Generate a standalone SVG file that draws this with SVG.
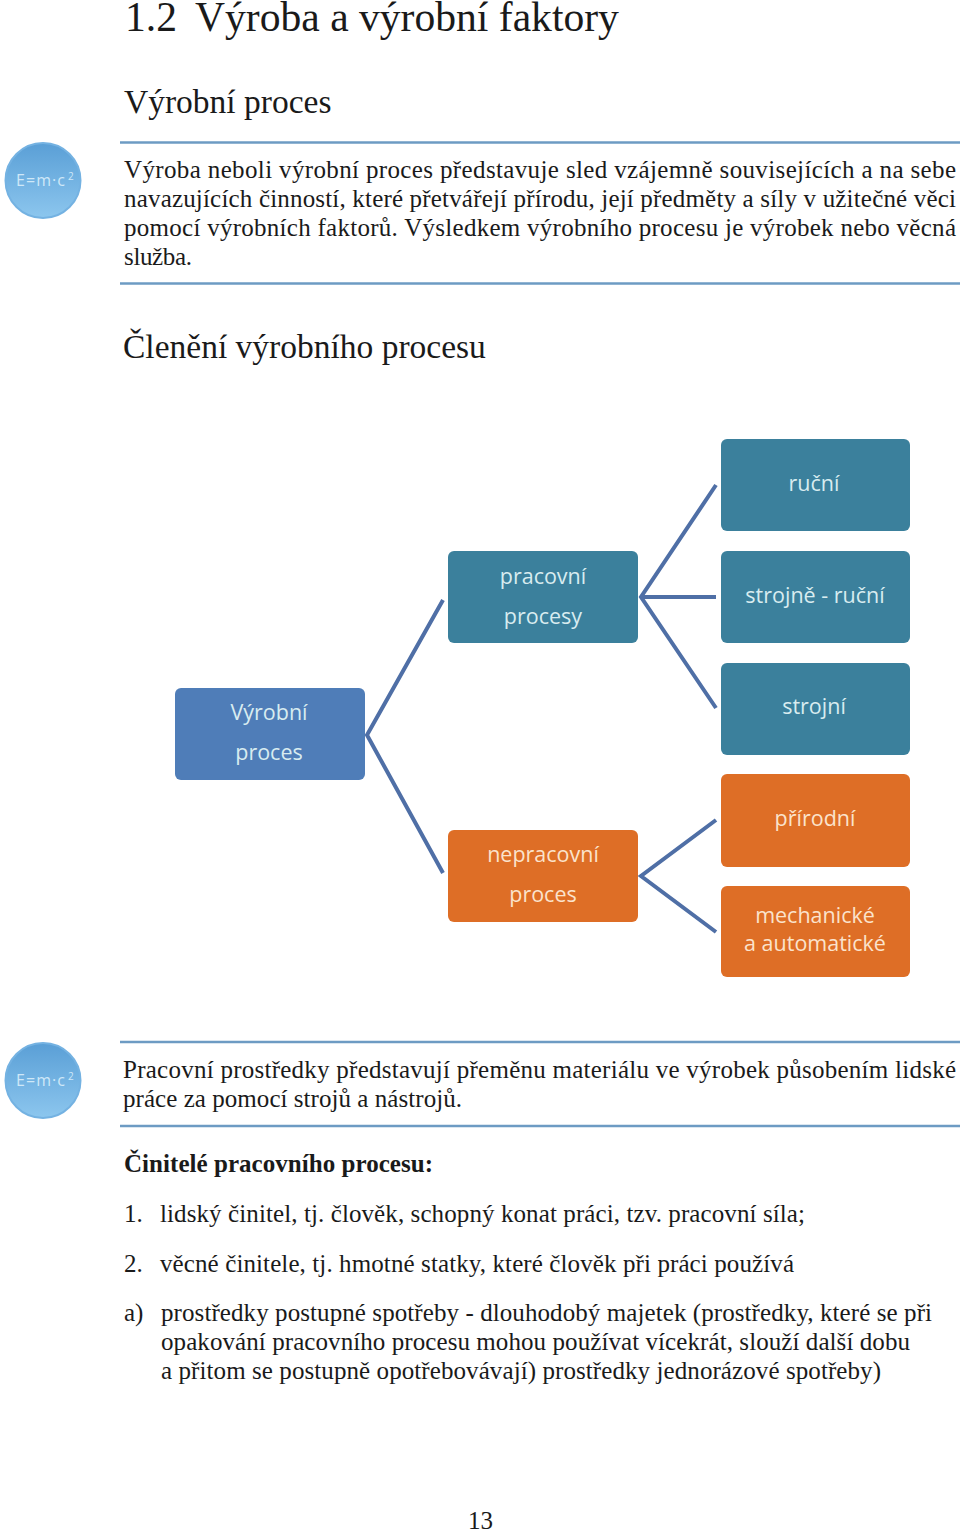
<svg xmlns="http://www.w3.org/2000/svg" width="960" height="1531" viewBox="0 0 960 1531">
<style>
text{font-family:"Liberation Serif","Times New Roman",serif;fill:#1a1a1a}
.b{font-size:25px}
.h{font-size:33.500px}
.n{font-family:"Open Sans","DejaVu Sans",sans-serif;font-size:21.500px;text-anchor:middle;fill:#d8ecf0;stroke:none}
.o{fill:#fbe3cc}
.rule{stroke:#6d9bc3;stroke-width:2.500}
.conn{stroke:#4f6fa6;stroke-width:4;fill:none}
.eq{font-family:"Open Sans",sans-serif;font-size:16px;fill:#cfe8f8}
.eq2{font-family:"Open Sans",sans-serif;font-size:10px;fill:#cfe8f8}
.circ{fill:url(#g);stroke:#74b2e2;stroke-width:2}
</style>
<defs>
<linearGradient id="g" x1="0" y1="0" x2="0" y2="1"><stop offset="0" stop-color="#5a9fd6"/><stop offset="1" stop-color="#8cc6ee"/></linearGradient>
</defs>
<rect width="960" height="1531" fill="#fff"/>
<text x="125" y="31" font-size="41.600">1.2 <tspan x="195">Výroba a výrobní faktory</tspan></text>
<text class="h" x="124" y="113">Výrobní proces</text>
<g id="formula1"><circle class="circ" cx="43" cy="180.500" r="37.500"/><text class="eq" x="16" y="186" textLength="49">E=m·c</text><text class="eq2" x="68" y="180">2</text></g>
<line class="rule" x1="120" y1="142.500" x2="960" y2="142.500"/>
<text class="b" x="124" y="178" textLength="832">Výroba neboli výrobní proces představuje sled vzájemně souvisejících a na sebe</text>
<text class="b" x="124" y="207" textLength="832">navazujících činností, které přetvářejí přírodu, její předměty a síly v užitečné věci</text>
<text class="b" x="124" y="236" textLength="832">pomocí výrobních faktorů. Výsledkem výrobního procesu je výrobek nebo věcná</text>
<text class="b" x="124" y="265" textLength="68">služba.</text>
<line class="rule" x1="120" y1="283.500" x2="960" y2="283.500"/>
<text class="h" x="123" y="358">Členění výrobního procesu</text>
<g id="connectors" class="conn">
<path d="M443 600L367 735L443 873"/>
<path d="M716 485L641 597L716 708"/>
<path d="M641 597H716"/>
<path d="M716 820L641 876L716 932"/>
</g>
<g id="n-vyrobni"><rect x="175" y="688" width="190" height="92" rx="6" fill="#4f7db8"/><text class="n" x="269" y="720">Výrobní</text><text class="n" x="269" y="760">proces</text></g>
<g id="n-pracovni"><rect x="448" y="551" width="190" height="92" rx="6" fill="#3b809c"/><text class="n" x="543" y="584">pracovní</text><text class="n" x="543" y="624">procesy</text></g>
<g id="n-nepracovni"><rect x="448" y="830" width="190" height="92" rx="6" fill="#de6e26"/><text class="n o" x="543" y="862">nepracovní</text><text class="n o" x="543" y="902">proces</text></g>
<g id="n-rucni"><rect x="721" y="439" width="189" height="92" rx="6" fill="#3b809c"/><text class="n" x="814" y="491">ruční</text></g>
<g id="n-strojne"><rect x="721" y="551" width="189" height="92" rx="6" fill="#3b809c"/><text class="n" x="815" y="603">strojně - ruční</text></g>
<g id="n-strojni"><rect x="721" y="663" width="189" height="92" rx="6" fill="#3b809c"/><text class="n" x="814" y="714">strojní</text></g>
<g id="n-prirodni"><rect x="721" y="774" width="189" height="93" rx="6" fill="#de6e26"/><text class="n o" x="815" y="826">přírodní</text></g>
<g id="n-mech"><rect x="721" y="886" width="189" height="91" rx="6" fill="#de6e26"/><text class="n o" x="815" y="923">mechanické</text><text class="n o" x="815" y="951">a automatické</text></g>
<g id="formula2"><circle class="circ" cx="43" cy="1080.500" r="37.500"/><text class="eq" x="16" y="1086" textLength="49">E=m·c</text><text class="eq2" x="68" y="1080">2</text></g>
<line class="rule" x1="120" y1="1042" x2="960" y2="1042"/>
<text class="b" x="123" y="1078" textLength="833">Pracovní prostředky představují přeměnu materiálu ve výrobek působením lidské</text>
<text class="b" x="123" y="1107" textLength="339">práce za pomocí strojů a nástrojů.</text>
<line class="rule" x1="120" y1="1126" x2="960" y2="1126"/>
<text class="b" x="124" y="1172" font-weight="bold" textLength="309">Činitelé pracovního procesu:</text>
<text class="b" x="124" y="1222">1.</text><text class="b" x="160" y="1222" textLength="645">lidský činitel, tj. člověk, schopný konat práci, tzv. pracovní síla;</text>
<text class="b" x="124" y="1272">2.</text><text class="b" x="160" y="1272" textLength="634">věcné činitele, tj. hmotné statky, které člověk při práci používá</text>
<text class="b" x="124" y="1321">a)</text><text class="b" x="161" y="1321" textLength="771">prostředky postupné spotřeby - dlouhodobý majetek (prostředky, které se při</text>
<text class="b" x="161" y="1350" textLength="749">opakování pracovního procesu mohou používat vícekrát, slouží další dobu</text>
<text class="b" x="161" y="1379" textLength="720">a přitom se postupně opotřebovávají) prostředky jednorázové spotřeby)</text>
<text class="b" x="468" y="1529">13</text>
</svg>
